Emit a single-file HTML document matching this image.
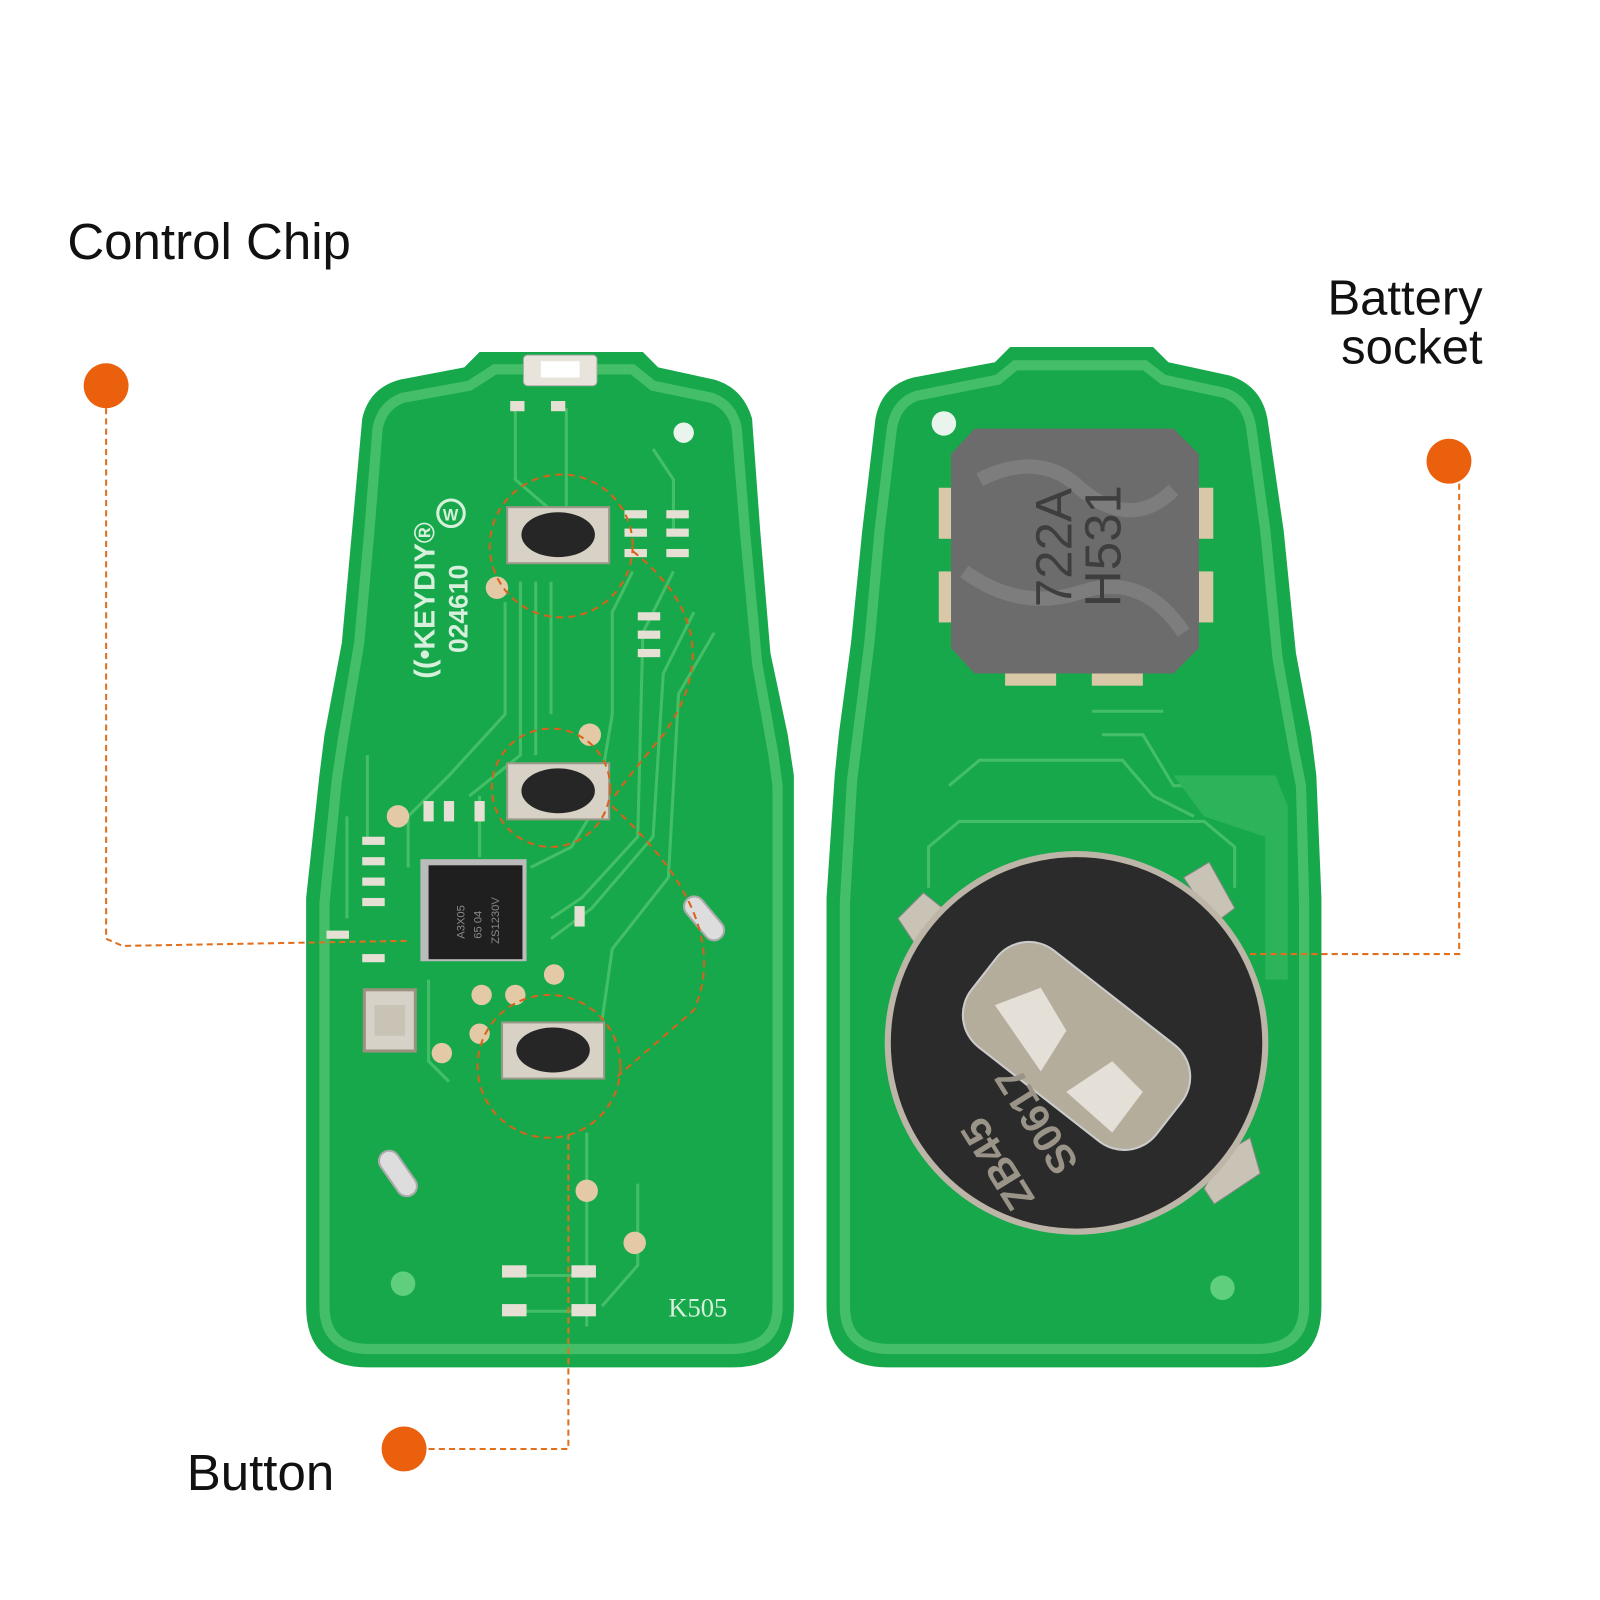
<!DOCTYPE html>
<html><head><meta charset="utf-8"><style>
html,body{margin:0;padding:0;background:#fff;width:1600px;height:1600px;overflow:hidden}
svg{display:block}
</style></head><body>
<svg width="1600" height="1600" viewBox="0 0 1568 1568" xmlns="http://www.w3.org/2000/svg" font-family="'Liberation Sans','DejaVu Sans',sans-serif">
<!-- LEFT BOARD -->
<path d="M470,345 L630,345 L645,360 L700,372 Q728,380 737,410 L745,520 L755,640 L772,720 L778,760 L778,1280 Q778,1340 718,1340 L360,1340 Q300,1340 300,1280 L300,880 L313,760 L318,720 L335,630 L345,520 L355,410 Q362,380 392,372 L455,360 Z" fill="#16a84a"/>
<path d="M485,362 L620,362 L640,378 L698,390 Q718,398 722,420 L730,520 L742,650 L758,740 L762,770 L762,1280 Q762,1322 715,1322 L362,1322 Q318,1322 318,1280 L318,885 L330,765 L336,725 L352,630 L362,520 L370,420 Q374,398 394,390 L460,378 Z" fill="none" stroke="#45bf67" stroke-width="10"/>
<g fill="none" stroke="#45bf67" stroke-width="3">
<path d="M505,400 L505,470 L540,500"/><path d="M555,400 L555,500"/>
<path d="M640,440 L660,470 L660,520"/>
<path d="M495,590 L495,700 L440,760 L400,800 L400,850"/>
<path d="M510,570 L510,740 L460,780"/><path d="M525,570 L525,740"/><path d="M540,570 L540,700"/>
<path d="M620,560 L600,600 L600,700 L590,760"/>
<path d="M660,560 L630,620 L625,820 L570,880 L540,900"/>
<path d="M680,600 L650,660 L640,820 L580,890 L540,920"/>
<path d="M700,620 L665,680 L655,860 L600,930 L590,1000"/>
<path d="M575,1110 L575,1300"/><path d="M625,1160 L625,1240 L590,1280"/>
<path d="M500,1250 L580,1250"/><path d="M500,1285 L580,1285"/>
<path d="M590,780 L560,830 L520,850"/><path d="M470,780 L470,840"/>
<path d="M360,740 L360,820"/><path d="M340,800 L340,900"/>
<path d="M420,960 L420,1040 L440,1060"/>
</g>
<rect x="513" y="348" width="72" height="30" rx="4" fill="#e8e4dc" stroke="#aaa"/>
<rect x="530" y="354" width="38" height="16" fill="#fff"/>
<g fill="#e6e0d4"><rect x="500" y="393" width="14" height="10"/><rect x="540" y="393" width="14" height="10"/></g>
<circle cx="670" cy="424" r="10" fill="#e9f5ec"/>
<text transform="translate(426,665) rotate(-90)" font-size="28" font-weight="bold" fill="#d6f0dc">((•KEYDIY®</text>
<text transform="translate(458,640) rotate(-90)" font-size="26" font-weight="bold" fill="#d6f0dc">024610</text>
<circle cx="442" cy="503" r="13" fill="none" stroke="#d6f0dc" stroke-width="3"/><text x="434" y="510" font-size="16" font-weight="bold" fill="#d6f0dc">W</text>
<g>
<rect x="497" y="497" width="100" height="55" fill="#d8d2c6" stroke="#998" stroke-width="2"/>
<ellipse cx="547" cy="524" rx="36" ry="22" fill="#262626"/>
<rect x="497" y="748" width="100" height="55" fill="#d8d2c6" stroke="#998" stroke-width="2"/>
<ellipse cx="547" cy="775" rx="36" ry="22" fill="#262626"/>
<rect x="492" y="1002" width="100" height="55" fill="#d8d2c6" stroke="#998" stroke-width="2"/>
<ellipse cx="542" cy="1029" rx="36" ry="22" fill="#262626"/>
</g>
<g fill="#e6e0d4">
<rect x="612" y="500" width="22" height="8"/><rect x="612" y="518" width="22" height="8"/><rect x="612" y="538" width="22" height="8"/>
<rect x="653" y="500" width="22" height="8"/><rect x="653" y="518" width="22" height="8"/><rect x="653" y="538" width="22" height="8"/>
<rect x="625" y="600" width="22" height="8"/><rect x="625" y="618" width="22" height="8"/><rect x="625" y="636" width="22" height="8"/>
<rect x="355" y="820" width="22" height="8"/><rect x="355" y="840" width="22" height="8"/><rect x="355" y="860" width="22" height="8"/><rect x="355" y="880" width="22" height="8"/>
<rect x="320" y="912" width="22" height="8"/><rect x="355" y="935" width="22" height="8"/>
<rect x="415" y="785" width="10" height="20"/><rect x="435" y="785" width="10" height="20"/><rect x="465" y="785" width="10" height="20"/>
<rect x="563" y="888" width="10" height="20"/>
<rect x="492" y="1240" width="24" height="12"/><rect x="560" y="1240" width="24" height="12"/>
<rect x="492" y="1278" width="24" height="12"/><rect x="560" y="1278" width="24" height="12"/>
</g>
<g fill="#e3c9a4">
<circle cx="487" cy="576" r="11"/><circle cx="578" cy="720" r="11"/><circle cx="390" cy="800" r="11"/>
<circle cx="472" cy="975" r="10"/><circle cx="505" cy="975" r="10"/><circle cx="543" cy="955" r="10"/><circle cx="470" cy="1013" r="10"/>
<circle cx="433" cy="1032" r="10"/><circle cx="575" cy="1167" r="11"/><circle cx="622" cy="1218" r="11"/>
</g>
<rect x="412" y="842" width="104" height="100" fill="#bbb"/>
<rect x="420" y="848" width="92" height="92" fill="#1f1f1f"/>
<text transform="translate(455,920) rotate(-90)" font-size="11" fill="#888">A3X05</text>
<text transform="translate(472,920) rotate(-90)" font-size="11" fill="#888">65 04</text>
<text transform="translate(489,925) rotate(-90)" font-size="11" fill="#888">ZS1230V</text>
<rect x="357" y="970" width="50" height="60" fill="#d6d2c8" stroke="#9a917f" stroke-width="3"/>
<rect x="367" y="985" width="30" height="30" fill="#c8c3b5"/>
<rect x="665" y="890" width="50" height="20" rx="10" transform="rotate(50 690 900)" fill="#ddd" stroke="#aaa" stroke-width="2"/>
<rect x="365" y="1140" width="50" height="20" rx="10" transform="rotate(55 390 1150)" fill="#ddd" stroke="#aaa" stroke-width="2"/>
<circle cx="395" cy="1258" r="12" fill="#5fcf7d"/>
<text x="655" y="1290" font-size="26" font-family="'Liberation Serif',serif" fill="#d6f0dc">K505</text>
<g fill="none" stroke="#d8621c" stroke-width="2" stroke-dasharray="7,5">
<circle cx="550" cy="535" r="70"/><circle cx="540" cy="772" r="58"/><circle cx="538" cy="1045" r="70"/>
<path d="M620,540 Q720,620 650,720 Q600,780 600,785"/>
<path d="M600,790 Q720,900 680,990 L605,1055"/>
</g>

<!-- RIGHT BOARD -->
<path d="M990,340 L1130,340 L1145,355 L1205,368 Q1236,378 1242,410 L1258,520 L1270,640 L1285,720 L1290,760 L1295,880 L1295,1280 Q1295,1340 1235,1340 L870,1340 Q810,1340 810,1280 L810,880 L818,760 L822,720 L834,630 L845,520 L858,410 Q864,378 895,370 L975,355 Z" fill="#16a84a"/>
<path d="M995,358 L1122,358 L1140,372 L1200,385 Q1222,393 1226,418 L1240,520 L1252,645 L1268,735 L1275,770 L1278,885 L1278,1280 Q1278,1322 1232,1322 L872,1322 Q828,1322 828,1280 L828,885 L835,765 L840,725 L852,630 L862,520 L874,420 Q878,395 898,388 L978,372 Z" fill="none" stroke="#45bf67" stroke-width="10"/>
<g fill="none" stroke="#45bf67" stroke-width="3">
<path d="M930,770 L960,745 L1100,745 L1130,780 L1170,800"/>
<path d="M1080,720 L1120,720 L1150,770 L1210,770"/>
<path d="M910,870 L910,830 L940,805 L1180,805 L1210,830 L1210,870"/>
<path d="M1070,697 L1140,697"/>
</g>
<path d="M1150,760 L1250,760 L1262,790 L1262,960 L1240,960 L1240,820 L1180,800 Z" fill="#2db35a"/>
<circle cx="925" cy="415" r="12" fill="#e9f5ec"/>
<circle cx="1198" cy="1262" r="12" fill="#5fcf7d"/>
<g fill="#d8c8a8"><rect x="920" y="478" width="15" height="50"/><rect x="920" y="560" width="15" height="50"/><rect x="1175" y="478" width="14" height="50"/><rect x="1175" y="560" width="14" height="50"/>
<rect x="985" y="658" width="50" height="14"/><rect x="1070" y="658" width="50" height="14"/></g>
<path d="M955,420 L1150,420 L1175,445 L1175,635 L1150,660 L955,660 L932,635 L932,445 Z" fill="#6c6c6c"/>
<path d="M960,470 Q1020,440 1060,480 Q1110,520 1150,480 M945,560 Q1000,600 1060,580 Q1120,560 1160,620" stroke="#7d7d7d" stroke-width="14" fill="none"/>
<text transform="translate(1050,595) rotate(-90)" font-size="50" fill="#3e3e3e">722A</text>
<text transform="translate(1098,595) rotate(-90)" font-size="50" fill="#3e3e3e">H531</text>
<path d="M880,900 L905,875 L930,895 L900,930 Z" fill="#c9c3b6" stroke="#888"/>
<path d="M1160,860 L1185,845 L1210,890 L1190,905 Z" fill="#c9c3b6" stroke="#888"/>
<path d="M1200,1130 L1225,1115 L1235,1150 L1190,1180 L1180,1165 Z" fill="#c9c3b6" stroke="#888"/>
<circle cx="1055" cy="1022" r="188" fill="#bdb6a8"/>
<circle cx="1055" cy="1022" r="182" fill="#2b2b2b"/>
<rect x="940" y="965" width="230" height="120" rx="40" transform="rotate(38 1055 1025)" fill="#b5ad9c" stroke="#ccc" stroke-width="2"/>
<path d="M975,985 L1020,968 L1045,1010 L1020,1050 Z" fill="#e4e0d8"/>
<path d="M1045,1070 L1090,1040 L1120,1070 L1090,1110 Z" fill="#e4e0d8"/>
<text transform="translate(1015,1175) rotate(-122)" font-size="40" font-weight="bold" fill="#9a9488">ZB45</text>
<text transform="translate(1058,1140) rotate(-122)" font-size="40" font-weight="bold" fill="#9a9488">S0617</text>

<text x="66" y="254" font-size="50" fill="#111">Control Chip</text>
<text x="1453" y="308" font-size="48" fill="#111" text-anchor="end">Battery</text>
<text x="1453" y="356" font-size="48" fill="#111" text-anchor="end">socket</text>
<text x="183" y="1460" font-size="50" fill="#111">Button</text>
<g fill="#ea600c"><circle cx="104" cy="378" r="22"/><circle cx="1420" cy="452" r="22"/><circle cx="396" cy="1420" r="22"/></g>
<g fill="none" stroke="#e0701e" stroke-width="2" stroke-dasharray="6,4">
<path d="M104,400 L104,920 L120,927 L400,922"/>
<path d="M1430,474 L1430,935 L1225,935"/>
<path d="M420,1420 L557,1420 L557,1112"/>
</g>
</svg>
</body></html>
